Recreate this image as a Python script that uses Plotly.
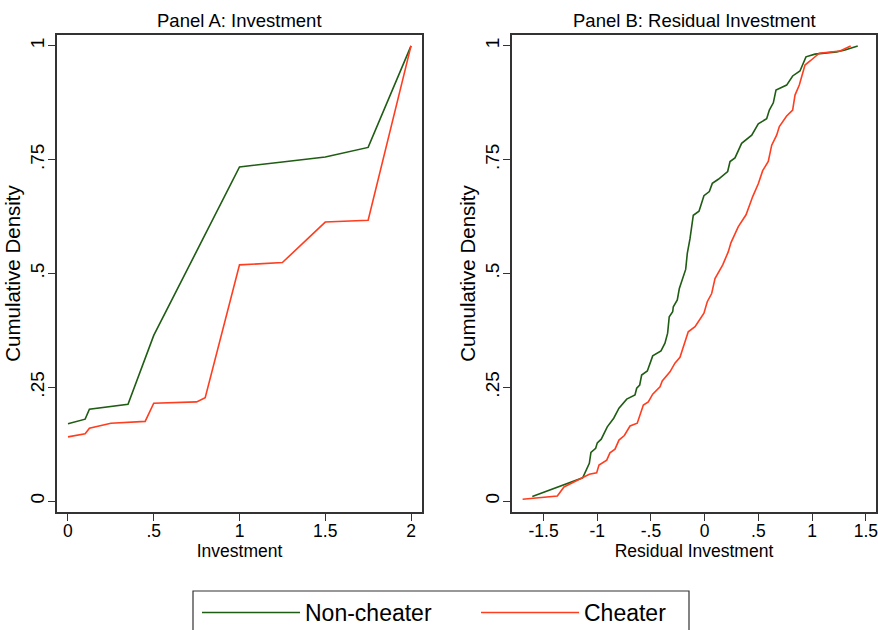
import plotly.graph_objects as go

# ---------------- data ----------------
# Panel A: Investment CDF
inv_nc_x = [0, 0.1, 0.125, 0.35, 0.5, 1.0, 1.25, 1.5, 1.75, 2.0]
inv_nc_y = [0.170, 0.180, 0.202, 0.2125, 0.364, 0.734, 0.745, 0.756, 0.777, 1.0]
inv_c_x = [0, 0.1, 0.125, 0.25, 0.45, 0.5, 0.75, 0.8, 1.0, 1.25, 1.5, 1.75, 2.0]
inv_c_y = [0.141, 0.148, 0.160, 0.171, 0.175, 0.215, 0.218, 0.227, 0.519, 0.524, 0.613, 0.617, 1.0]

# Panel B: Residual investment CDF
res_nc_x = [-1.605, -1.136, -1.074, -1.059, -1.015, -1.0, -0.963, -0.907, -0.847, -0.798,
            -0.726, -0.649, -0.633, -0.605, -0.587, -0.534, -0.484, -0.407, -0.370, -0.345,
            -0.330, -0.298, -0.292, -0.255, -0.236, -0.208, -0.177, -0.162, -0.137, -0.106,
            -0.053, -0.007, 0.043, 0.071, 0.127, 0.214, 0.236, 0.282, 0.344, 0.438,
            0.499, 0.577, 0.602, 0.639, 0.664, 0.763, 0.819, 0.887, 0.943, 1.027,
            1.229, 1.306, 1.425]
res_nc_y = [0.010, 0.051, 0.083, 0.107, 0.116, 0.128, 0.136, 0.163, 0.182, 0.204,
            0.224, 0.233, 0.248, 0.255, 0.277, 0.286, 0.319, 0.330, 0.347, 0.369,
            0.405, 0.416, 0.427, 0.442, 0.467, 0.486, 0.509, 0.544, 0.576, 0.628,
            0.637, 0.671, 0.680, 0.698, 0.707, 0.724, 0.746, 0.754, 0.786, 0.804,
            0.829, 0.840, 0.859, 0.875, 0.903, 0.914, 0.934, 0.945, 0.976, 0.982,
            0.987, 0.991, 1.0]
res_c_x = [-1.695, -1.372, -1.310, -1.161, -1.074, -1.006, -0.984, -0.912, -0.882, -0.835,
           -0.798, -0.748, -0.695, -0.628, -0.571, -0.525, -0.484, -0.416, -0.395, -0.323,
           -0.277, -0.230, -0.199, -0.153, -0.090, -0.044, -0.007, 0.024, 0.065, 0.096,
           0.168, 0.220, 0.245, 0.313, 0.385, 0.447, 0.499, 0.540, 0.592, 0.624,
           0.670, 0.695, 0.763, 0.819, 0.841, 0.881, 0.934, 0.987, 1.027, 1.067,
           1.260, 1.322, 1.359]
res_c_y = [0.004, 0.011, 0.031, 0.048, 0.059, 0.062, 0.079, 0.090, 0.106, 0.114,
           0.134, 0.144, 0.165, 0.171, 0.211, 0.218, 0.235, 0.251, 0.264, 0.284,
           0.303, 0.316, 0.339, 0.372, 0.383, 0.399, 0.413, 0.438, 0.456, 0.489,
           0.519, 0.548, 0.568, 0.603, 0.629, 0.669, 0.697, 0.726, 0.746, 0.782,
           0.804, 0.823, 0.846, 0.859, 0.892, 0.914, 0.958, 0.968, 0.976, 0.984,
           0.989, 0.995, 1.0]

series_names = ["Non-cheater", "Cheater"]
panel_titles = ["Panel A: Investment", "Panel B: Residual Investment"]
x_titles = ["Investment", "Residual Investment"]
y_title = "Cumulative Density"
y_ticks = [0, 0.25, 0.5, 0.75, 1]
y_ticktext = ["0", ".25", ".5", ".75", "1"]
xa_ticks = [0, 0.5, 1, 1.5, 2]
xa_ticktext = ["0", ".5", "1", "1.5", "2"]
xb_ticks = [-1.5, -1, -0.5, 0, 0.5, 1, 1.5]
xb_ticktext = ["-1.5", "-1", "-.5", "0", ".5", "1", "1.5"]

# ---------------- style ----------------
GREEN = "#1f5c14"
RED = "#ff3d1f"
AX = "#333333"
W, H = 878, 630
FONT = "Liberation Sans, Arial, Helvetica, sans-serif"

fig = go.Figure()
fig.add_trace(go.Scatter(x=inv_nc_x, y=inv_nc_y, mode="lines", name=series_names[0],
                         legendgroup="nc", line=dict(color=GREEN, width=1.6),
                         xaxis="x", yaxis="y"))
fig.add_trace(go.Scatter(x=inv_c_x, y=inv_c_y, mode="lines", name=series_names[1],
                         legendgroup="c", line=dict(color=RED, width=1.6),
                         xaxis="x", yaxis="y"))
fig.add_trace(go.Scatter(x=res_nc_x, y=res_nc_y, mode="lines", name=series_names[0],
                         legendgroup="nc", showlegend=False, line=dict(color=GREEN, width=1.6),
                         xaxis="x2", yaxis="y2"))
fig.add_trace(go.Scatter(x=res_c_x, y=res_c_y, mode="lines", name=series_names[1],
                         legendgroup="c", showlegend=False, line=dict(color=RED, width=1.6),
                         xaxis="x2", yaxis="y2"))

ydom = [1 - 512 / H, 1 - 35 / H]
common = dict(showline=True, linecolor=AX, linewidth=1.5, mirror=True,
              ticks="outside", ticklen=7, tickwidth=1.2, tickcolor=AX,
              showgrid=False, zeroline=False, automargin=False)
xcommon = dict(common, tickfont=dict(size=17.5, color="black"), ticklabelstandoff=-5)
ycommon = dict(common, tickfont=dict(size=19, color="black"), tickangle=-90,
               ticklabelstandoff=-3)

fig.update_layout(
    width=W, height=H,
    margin=dict(l=0, r=0, t=0, b=0, autoexpand=False),
    paper_bgcolor="white", plot_bgcolor="white",
    font=dict(family=FONT, size=17, color="black"),
    xaxis=dict(domain=[57 / W, 422 / W], range=[-0.064, 2.064], anchor="y",
               tickvals=xa_ticks, ticktext=xa_ticktext,
               title=dict(text=x_titles[0], font=dict(size=17.5), standoff=3),
               **xcommon),
    yaxis=dict(domain=ydom, range=[-0.024, 1.024], anchor="x",
               tickvals=y_ticks, ticktext=y_ticktext,
               title=dict(text=y_title, font=dict(size=20.5), standoff=0),
               **ycommon),
    xaxis2=dict(domain=[512 / W, 876 / W], range=[-1.794, 1.595], anchor="y2",
                tickvals=xb_ticks, ticktext=xb_ticktext,
                title=dict(text=x_titles[1], font=dict(size=17.5), standoff=3),
                **xcommon),
    yaxis2=dict(domain=ydom, range=[-0.024, 1.024], anchor="x2",
                tickvals=y_ticks, ticktext=y_ticktext,
                title=dict(text=y_title, font=dict(size=20.5), standoff=0),
                **ycommon),
    showlegend=True,
    legend=dict(orientation="h", x=197 / W, xanchor="left", y=1 - 591 / H, yanchor="top",
                borderwidth=0, bgcolor="rgba(0,0,0,0)",
                font=dict(size=23, color="black"), itemwidth=98,
                entrywidth=166, entrywidthmode="pixels"),
    shapes=[
        dict(type="rect", xref="paper", yref="paper", x0=193 / W, x1=689 / W,
             y0=-0.1, y1=1 - 591 / H, line=dict(color=AX, width=1.2), layer="below"),
    ],
    annotations=[
        dict(text=panel_titles[0], x=239.5 / W, y=1 - 20 / H, xref="paper", yref="paper",
             xanchor="center", yanchor="middle", showarrow=False, font=dict(size=18.5)),
        dict(text=panel_titles[1], x=694 / W, y=1 - 20 / H, xref="paper", yref="paper",
             xanchor="center", yanchor="middle", showarrow=False, font=dict(size=18.5)),
    ],
)

fig.write_html("out.html", config={"displayModeBar": False},
               post_script="document.body.style.margin='0';document.body.style.overflow='hidden';")
